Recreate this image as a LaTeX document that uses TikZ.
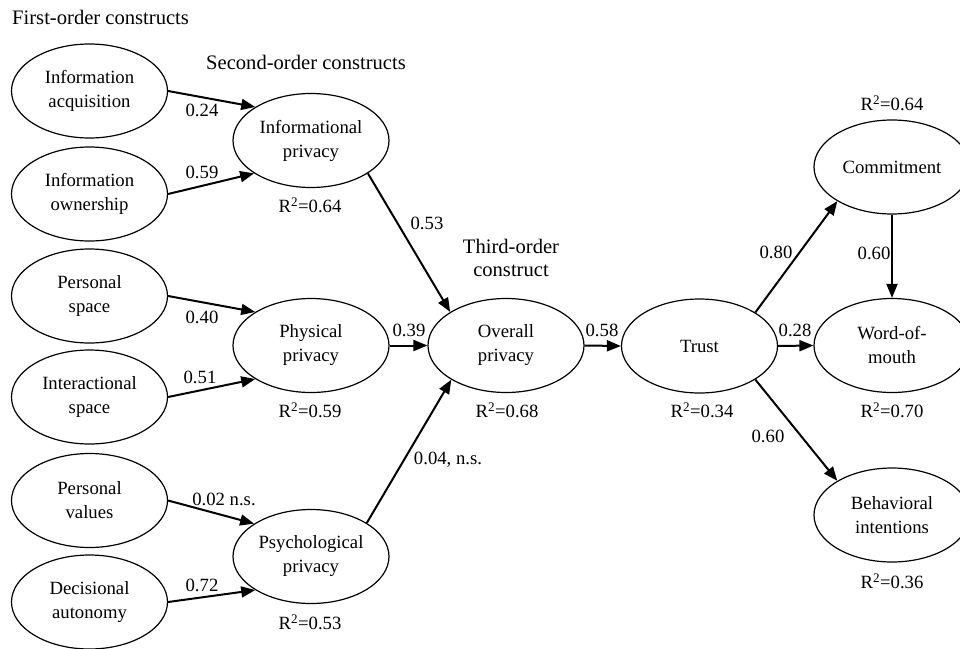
\documentclass[tikz,border=0pt]{standalone}
\usepackage{fontspec}
\setmainfont{Liberation Serif}
\usetikzlibrary{shapes.geometric,arrows.meta}
\newcommand\nodefnt{\fontsize{18.7}{24}\selectfont}
\newcommand\headfnt{\fontsize{20.6}{23}\selectfont}
\tikzset{
  construct/.style={ellipse, draw, line width=1.2pt, minimum width=156pt, minimum height=94pt, inner sep=0pt, align=center, font=\nodefnt},
  pathline/.style={line width=2pt, -{Triangle[length=14pt,width=11pt]}},
  lbl/.style={font=\nodefnt, inner sep=0pt},
  heading/.style={font=\headfnt, inner sep=0pt, align=center},
}
\begin{document}
\begin{tikzpicture}[x=1pt,y=-1pt]
\useasboundingbox (0,0) rectangle (960,648);
\clip (0,0) rectangle (960,648);
% headings
\node[heading, anchor=west] (h1) at (12,17) {First-order constructs};
\node[heading] (h2) at (306,62) {Second-order constructs};
\node[heading] (h3) at (511,257.5) {Third-order\\construct};
% first-order
\node[construct] (ia) at (89.5,91) {Information\\acquisition};
\node[construct] (io) at (89.5,194) {Information\\ownership};
\node[construct] (ps) at (89.5,296) {Personal\\space};
\node[construct] (is) at (89.5,397) {Interactional\\space};
\node[construct] (pv) at (89.5,500.5) {Personal\\values};
\node[construct] (da) at (89.5,602) {Decisional\\autonomy};
% second-order
\node[construct] (ip) at (311,140.5) {Informational\\privacy};
\node[construct] (pp) at (311,345.5) {Physical\\privacy};
\node[construct] (sp) at (311,556.5) {Psychological\\privacy};
% third-order and outcomes
\node[construct] (op) at (506,345.5) {Overall\\privacy};
\node[construct] (tr) at (699.5,346) {Trust};
\node[construct] (cm) at (892,167) {Commitment};
\node[construct] (wm) at (892,345.5) {Word-of-\\mouth};
\node[construct] (bi) at (892,515) {Behavioral\\intentions};
% paths
\draw[pathline] (ia.east) -- (ip.149);
\draw[pathline] (io.east) -- (ip.210);
\draw[pathline] (ps.east) -- (pp.149);
\draw[pathline] (is.east) -- (pp.211);
\draw[pathline] (pv.east) -- (sp.150);
\draw[pathline] (da.east) -- (sp.211);
\draw[pathline] (ip.330) -- (op.149);
\draw[pathline] (pp.east) -- (op.west);
\draw[pathline] (sp.31) -- (op.212);
\draw[pathline] (op.east) -- (tr.west);
\draw[pathline] (tr.31) -- (cm.212);
\draw[pathline] (tr.east) -- (wm.west);
\draw[pathline] (tr.329) -- (bi.148);
\draw[pathline] (cm.south) -- (wm.north);
% path coefficients
\node[lbl] (c1) at (202,110) {0.24};
\node[lbl] (c2) at (202,172) {0.59};
\node[lbl] (c3) at (202,317) {0.40};
\node[lbl] (c4) at (200,377) {0.51};
\node[lbl] (c5) at (224,499) {0.02 n.s.};
\node[lbl] (c6) at (202,585) {0.72};
\node[lbl] (c7) at (427,223) {0.53};
\node[lbl] (c8) at (409,330) {0.39};
\node[lbl] (c9) at (448,460) {0.04, n.s.};
\node[lbl] (c10) at (602,330) {0.58};
\node[lbl] (c11) at (776,252) {0.80};
\node[lbl] (c12) at (795,330) {0.28};
\node[lbl] (c13) at (874,253) {0.60};
\node[lbl] (c14) at (768,436) {0.60};
% R squared
\node[lbl] (r1) at (310,205) {R\textsuperscript{2}=0.64};
\node[lbl] (r2) at (310,410) {R\textsuperscript{2}=0.59};
\node[lbl] (r3) at (310,622) {R\textsuperscript{2}=0.53};
\node[lbl] (r4) at (507,410) {R\textsuperscript{2}=0.68};
\node[lbl] (r5) at (702,410) {R\textsuperscript{2}=0.34};
\node[lbl] (r6) at (892,103) {R\textsuperscript{2}=0.64};
\node[lbl] (r7) at (892,410) {R\textsuperscript{2}=0.70};
\node[lbl] (r8) at (892,581) {R\textsuperscript{2}=0.36};
\end{tikzpicture}
\end{document}
